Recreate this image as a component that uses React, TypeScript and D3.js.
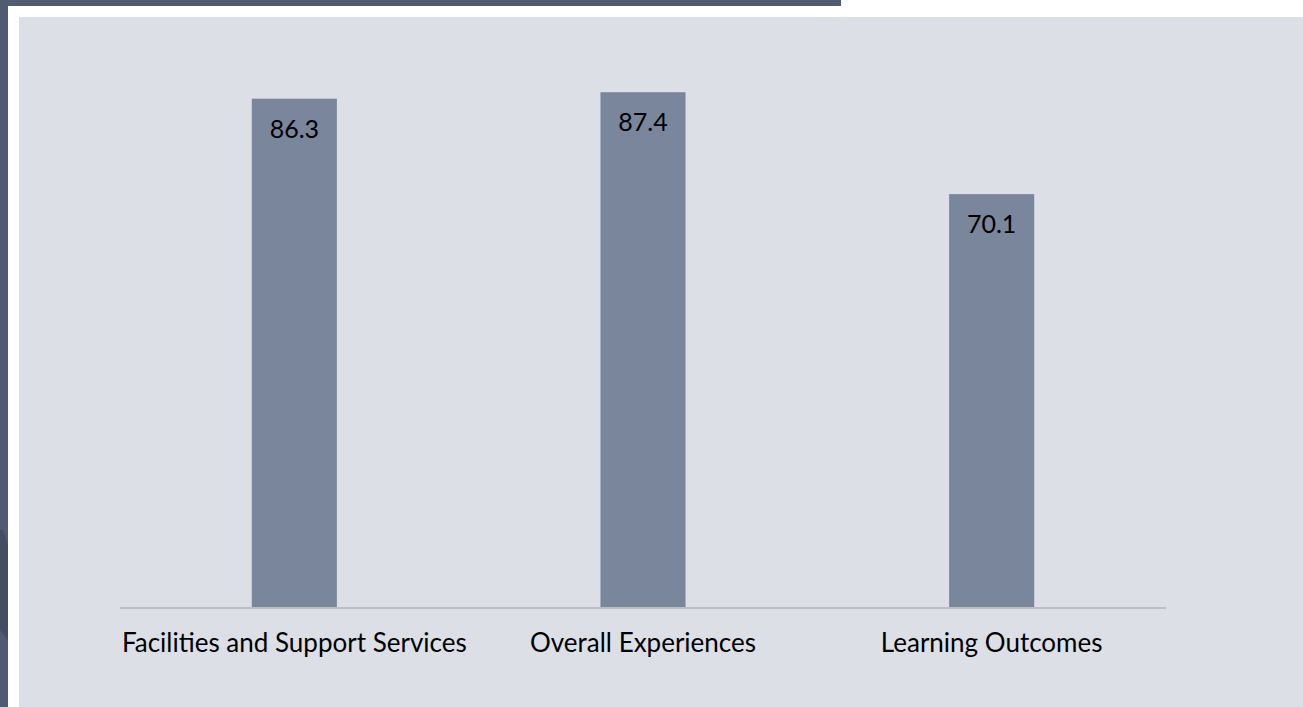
import React from "react";
import * as d3 from "d3";

const categories = ["Facilities and Support Services", "Overall Experiences", "Learning Outcomes"];
const values = [86.3, 87.4, 70.1];
const yDomain = [0, 100];

const W = 1303;
const H = 707;
const FONT = "Lato, 'Open Sans', sans-serif";

export default function App() {
  const x = d3
    .scaleBand<string>()
    .domain(categories)
    .range([120, 1166])
    .paddingInner(0.756)
    .paddingOuter(0.378);
  const y = d3.scaleLinear().domain(yDomain).range([607, 18]);

  return (
    <svg
      width={W}
      height={H}
      style={{ position: "absolute", left: 0, top: 0, display: "block" }}
    >
      <rect x={0} y={0} width={W} height={H} fill="#ffffff" />
      {/* decorative dark frame pieces */}
      <rect x={0} y={0} width={841} height={6} fill="#4f5b70" />
      <rect x={0} y={0} width={8} height={H} fill="#4f5b70" />
      <polygon points="0,530 3,530 8,545 8,640 0,630" fill="#434e63" />
      {/* panel */}
      <rect x={19} y={17} width={W - 19} height={H - 17} fill="#dcdfe6" />

      {/* bars */}
      {categories.map((c, i) => (
        <rect
          key={c}
          x={x(c)}
          y={y(values[i])}
          width={x.bandwidth()}
          height={y(0) - y(values[i])}
          fill="#7a869b"
        />
      ))}

      {/* axis line */}
      <line x1={120} x2={1166} y1={608} y2={608} stroke="#bcbec5" strokeWidth={1.8} />

      {/* value labels */}
      {categories.map((c, i) => (
        <text
          key={c + "-v"}
          x={(x(c) as number) + x.bandwidth() / 2}
          y={y(values[i]) + 39}
          textAnchor="middle"
          fontFamily={FONT}
          fontSize={25}
          fill="#000"
        >
          {values[i].toFixed(1)}
        </text>
      ))}

      {/* category labels */}
      {categories.map((c) => (
        <text
          key={c + "-l"}
          x={(x(c) as number) + x.bandwidth() / 2}
          y={652}
          textAnchor="middle"
          fontFamily={FONT}
          fontSize={26}
          fill="#000"
        >
          {c}
        </text>
      ))}
    </svg>
  );
}
